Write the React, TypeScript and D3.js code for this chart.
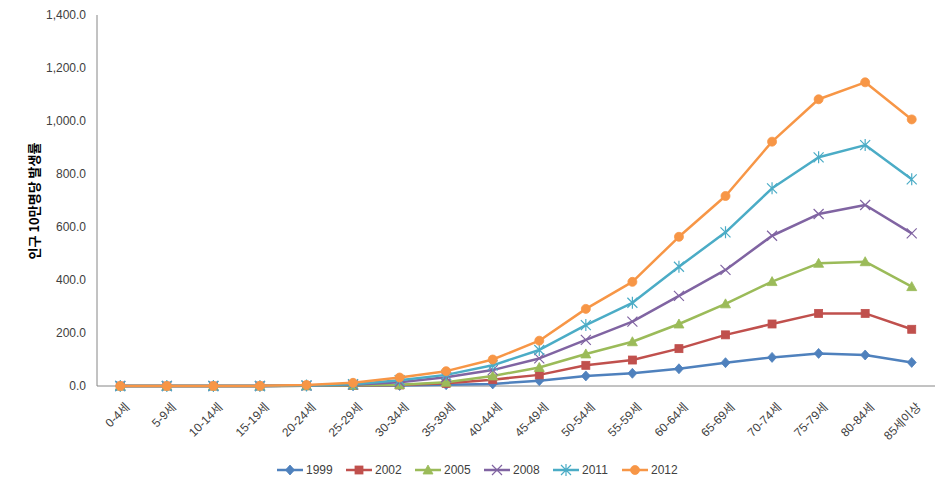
import React from "react";
import * as d3 from "d3";

const categories = ["0-4세","5-9세","10-14세","15-19세","20-24세","25-29세","30-34세","35-39세","40-44세","45-49세","50-54세","55-59세","60-64세","65-69세","70-74세","75-79세","80-84세","85세이상"];
const seriesNames = ["1999","2002","2005","2008","2011","2012"];
const s1999 = [0,0,0,0,0.5,1,2,5,8,20,38,48,65,88,108,123,117,89];
const s2002 = [0,0,0,0,0.8,2,4,10,24,42,78,98,141,193,234,274,274,214];
const s2005 = [0,0,0,0,1,3,5,14,38,70,121,167,234,310,394,463,469,375];
const s2008 = [0,0,0,0,1.5,5,14,33,60,104,174,243,340,438,567,649,683,576];
const s2011 = [0,0,0,0,2,7,22,42,78,136,230,314,450,580,746,863,909,780];
const s2012 = [0,0,0,0.5,4,12,32,56,100,171,291,393,563,717,922,1082,1146,1006];
const yTicks = [0,200,400,600,800,1000,1200,1400];
const yTitle = "인구 10만명당 발생률";

const colors = ["#4F81BD","#C0504D","#9BBB59","#8064A2","#4BACC6","#F79646"];
const shapes = ["diamond","square","triangle","x","star","circle"];
const allSeries = [s1999,s2002,s2005,s2008,s2011,s2012];

const W = 950, H = 490;
const left = 97, right = 935, top = 15, bottom = 386;

function Marker({ shape, x, y, color }: { shape: string; x: number; y: number; color: string }) {
  const t = `translate(${x},${y})`;
  if (shape === "diamond") return <path transform={t} d="M0,-5L4.5,0L0,5L-4.5,0Z" fill={color} stroke={color} strokeWidth={0.8} />;
  if (shape === "square") return <rect transform={t} x={-4} y={-4} width={8} height={8} fill={color} stroke={color} strokeWidth={0.8} />;
  if (shape === "triangle") return <path transform={t} d="M0,-5L5,4L-5,4Z" fill={color} stroke={color} strokeWidth={0.8} />;
  if (shape === "circle") return <circle transform={t} r={4.5} fill={color} stroke={color} strokeWidth={0.8} />;
  if (shape === "x") return <path transform={t} d="M-5,-5L5,5M-5,5L5,-5" stroke={color} strokeWidth={1.2} fill="none" />;
  return <path transform={t} d="M-5,-5L5,5M-5,5L5,-5M0,-6L0,6" stroke={color} strokeWidth={1.2} fill="none" />;
}

export default function App() {
  const x = d3.scaleBand<string>().domain(categories).range([left, right]);
  const cx = (c: string) => (x(c) as number) + x.bandwidth() / 2;
  const y = d3.scaleLinear().domain([0, 1400]).range([bottom, top]);
  const fmt = d3.format(",.1f");
  const line = d3.line<number>().x((_, i) => cx(categories[i])).y((d) => y(d));
  const font = "'Liberation Sans', Arial, 'Noto Sans CJK KR', sans-serif";
  const legendX0 = 277, legendStep = 69, legendY = 470;

  return (
    <svg width={W} height={H} style={{ position: "absolute", left: 0, top: 0, background: "#fff" }} fontFamily={font}>
      <rect x={0} y={0} width={W} height={H} fill="#fff" />
      <line x1={left} x2={left} y1={top} y2={bottom} stroke="#868686" strokeWidth={1} />
      <line x1={left} x2={right} y1={bottom} y2={bottom} stroke="#868686" strokeWidth={1} />
      {yTicks.map((t) => (
        <text key={t} x={86} y={y(t)} dy="0.35em" textAnchor="end" fontSize={12} fill="#404040">{fmt(t)}</text>
      ))}
      <text transform={`translate(34,201) rotate(-90)`} textAnchor="middle" dy="0.35em" fontSize={13} fontWeight="bold" fill="#000" fontFamily="'Noto Sans CJK KR', sans-serif">{yTitle}</text>
      {categories.map((c) => (
        <text key={c} transform={`translate(${cx(c) + 7},${bottom + 19}) rotate(-45)`} textAnchor="end" dy="0.35em" fontSize={12} fill="#404040">{c}</text>
      ))}
      {allSeries.map((s, si) => (
        <g key={si}>
          <path d={line(s) as string} fill="none" stroke={colors[si]} strokeWidth={2.5} strokeLinejoin="round" />
          {s.map((v, i) => (
            <Marker key={i} shape={shapes[si]} x={cx(categories[i])} y={y(v)} color={colors[si]} />
          ))}
        </g>
      ))}
      {seriesNames.map((n, i) => {
        const lx = legendX0 + i * legendStep;
        return (
          <g key={n}>
            <line x1={lx} x2={lx + 26} y1={legendY} y2={legendY} stroke={colors[i]} strokeWidth={2.5} />
            <Marker shape={shapes[i]} x={lx + 13} y={legendY} color={colors[i]} />
            <text x={lx + 29} y={legendY} dy="0.35em" fontSize={12} fill="#404040">{n}</text>
          </g>
        );
      })}
    </svg>
  );
}
